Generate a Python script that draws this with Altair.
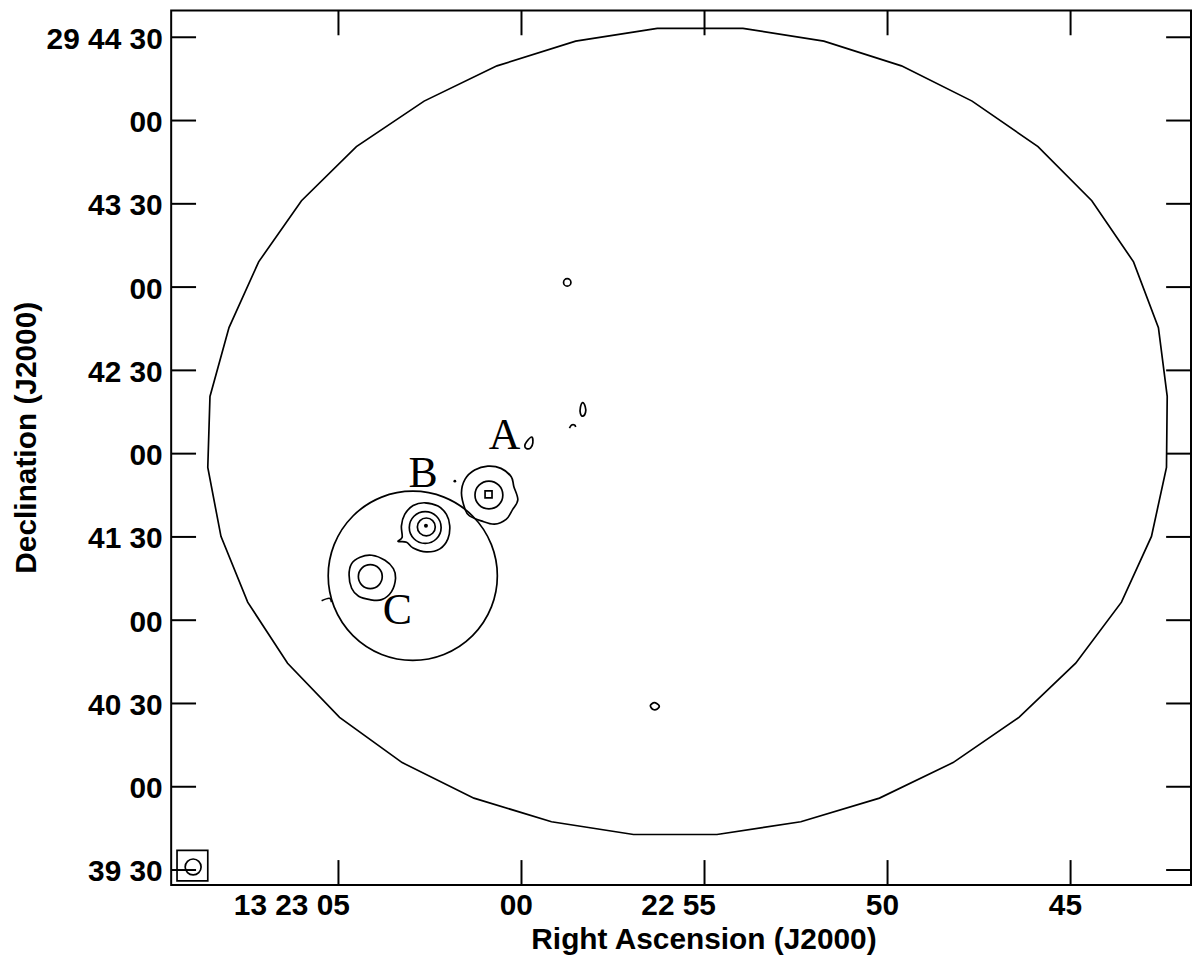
import json
import altair as alt
import pandas as pd

# Coordinates: RA in seconds past 13h22m00s, Dec in arcsec past +29d39m00s
ra_ticks = [65, 60, 55, 50, 45]
ra_tick_labels = ["13 23 05", "00", "22 55", "50", "45"]
dec_ticks = [30, 60, 90, 120, 150, 180, 210, 240, 270, 300, 330]
dec_tick_labels = ["39 30", "00", "40 30", "00", "41 30", "00", "42 30", "00", "43 30", "00", "29 44 30"]

# primary beam polygon
pb_ra = [42.36, 42.60, 43.28, 44.42, 45.89, 47.69, 49.62, 51.74, 53.95, 56.29, 58.52, 60.67,
         62.66, 64.51, 66.01, 67.18, 67.99, 68.51, 68.57, 68.21, 67.48, 66.39, 64.97, 63.26,
         61.30, 59.18, 56.94, 54.66, 52.37, 50.22, 48.21, 46.41, 44.86, 43.61, 42.79, 42.38]
pb_dec = [200.6, 225.4, 249.1, 271.1, 290.6, 307.0, 319.7, 328.6, 333.2, 333.2, 328.6, 319.7,
          307.0, 290.6, 271.1, 249.1, 225.4, 200.6, 175.0, 150.2, 126.5, 104.5, 85.0, 68.7,
          55.9, 47.4, 42.8, 42.8, 47.4, 55.9, 68.7, 85.0, 104.5, 126.5, 150.2, 175.0]

# outer contours of the sources
a_out_ra = [60.92, 60.56, 60.28, 60.21, 60.10, 60.24, 60.42, 60.74, 61.10, 61.42, 61.54, 61.64, 61.54, 61.28]
a_out_dec = [175.5, 174.7, 171.7, 168.2, 163.4, 159.9, 156.3, 154.6, 155.8, 157.6, 159.9, 165.8, 170.8, 174.1]
b_out_ra = [62.64, 62.28, 62.05, 61.96, 62.01, 62.23, 62.60, 62.96, 63.14, 63.37, 63.26, 63.28, 63.19, 62.96]
b_out_dec = [162.3, 161.1, 158.1, 154.0, 149.3, 145.7, 144.6, 146.0, 148.1, 148.4, 149.9, 154.0, 158.1, 161.3]
c_out_ra = [64.09, 63.73, 63.50, 63.44, 63.55, 63.82, 64.14, 64.45, 64.64, 64.71, 64.64, 64.41]
c_out_dec = [143.4, 141.6, 138.6, 135.1, 130.3, 127.4, 127.4, 128.6, 131.5, 136.3, 140.4, 142.7]

# small closed noise contours
t1_ra = [58.33, 58.26, 58.25, 58.32, 58.39, 58.39]
t1_dec = [198.4, 197.0, 194.9, 193.5, 194.5, 196.7]
t2_ra = [59.72, 59.69, 59.75, 59.86, 59.91, 59.86]
t2_dec = [186.0, 183.9, 182.1, 181.8, 182.8, 184.3]
t3_ra = [56.48, 56.37, 56.24, 56.29, 56.40]
t3_dec = [89.2, 90.3, 89.2, 88.0, 87.8]

# small open contour fragments
arc_ra = [58.69, 58.63, 58.55, 58.52]
arc_dec = [189.2, 190.3, 190.3, 189.6]
sp_ra = [65.46, 65.25, 65.19]
sp_dec = [127.0, 127.9, 126.5]

# round contours (centres)
a_mid = (60.89, 165.1)
a_in = (60.90, 165.3)
b_mid = (62.63, 153.4)
b_in = (62.60, 153.6)
b_peak = (62.61, 154.0)
c_mid = (64.13, 135.7)
blob = (58.75, 241.7)
dot = (61.82, 170.1)
region_centre = (62.97, 136.0)

# beam
beam_box_ra = [69.41, 68.57]
beam_box_dec = [37.1, 26.1]
beam_centre = (68.97, 31.1)

# source labels
letters = ["A", "B", "C"]
letter_ra = [60.46, 62.69, 63.39]
letter_dec = [181.8, 167.9, 118.7]

W, H = 1025, 879
FONT = "Liberation Sans"

X_SCALE = alt.Scale(domain=[69.57, 41.71], nice=False, zero=False)
Y_SCALE = alt.Scale(domain=[24.62, 339.68], nice=False, zero=False)

x_axis = alt.Axis(
    values=ra_ticks,
    labelExpr=f"{json.dumps(ra_tick_labels)}[indexof({json.dumps(ra_ticks)}, datum.value)]",
    labelAlign="right", labelOffset=11, labelBaseline="alphabetic", labelPadding=30,
    labelOverlap=False, labelFlush=False, tickSize=0,
    titleX=535, titleY=64, titleAlign="center", titleBaseline="alphabetic",
)
y_axis = alt.Axis(
    values=dec_ticks,
    labelExpr=f"{json.dumps(dec_tick_labels)}[indexof({json.dumps(dec_ticks)}, datum.value)]",
    labelAlign="right", labelBaseline="alphabetic", labelOffset=11, labelPadding=9,
    labelOverlap=False, labelFlush=False, tickSize=0,
    titleX=-136, titleY=429, titleAngle=270, titleAlign="center", titleBaseline="alphabetic",
)


def X(f="ra"):
    return alt.X(f"{f}:Q", scale=X_SCALE, axis=x_axis, title="Right Ascension (J2000)")


def Y(f="dec"):
    return alt.Y(f"{f}:Q", scale=Y_SCALE, axis=y_axis, title="Declination (J2000)")


def table(groups):
    rows = []
    for gid, (ras, decs) in enumerate(groups):
        for k, (r, d) in enumerate(zip(ras, decs)):
            rows.append({"ra": r, "dec": d, "cid": gid, "k": k})
    return pd.DataFrame(rows)


LW = 1.7

beam_poly = alt.Chart(table([(pb_ra, pb_dec)])).mark_line(
    interpolate="linear-closed", color="black", strokeWidth=LW
).encode(x=X(), y=Y(), detail="cid:N", order="k:Q")

closed = alt.Chart(table([(a_out_ra, a_out_dec), (b_out_ra, b_out_dec), (c_out_ra, c_out_dec),
                          (t1_ra, t1_dec), (t2_ra, t2_dec), (t3_ra, t3_dec)])).mark_line(
    interpolate="cardinal-closed", color="black", strokeWidth=LW
).encode(x=X(), y=Y(), detail="cid:N", order="k:Q")

open_frag = alt.Chart(table([(arc_ra, arc_dec), (sp_ra, sp_dec)])).mark_line(
    interpolate="cardinal", color="black", strokeWidth=LW
).encode(x=X(), y=Y(), detail="cid:N", order="k:Q")


def ring(c, size, shape="circle", filled=False):
    df = pd.DataFrame({"ra": [c[0]], "dec": [c[1]]})
    return alt.Chart(df).mark_point(
        shape=shape, size=size, filled=filled, color="black", opacity=1,
        strokeWidth=LW
    ).encode(x=X(), y=Y())


rings = [
    ring(a_mid, 784), ring(a_in, 49, shape="square"),
    ring(b_mid, 1024), ring(b_in, 324), ring(b_peak, 16, filled=True),
    ring(c_mid, 576), ring(blob, 55), ring(dot, 8, filled=True),
    ring(region_centre, 28900), ring(beam_centre, 256),
]

beam_box = alt.Chart(pd.DataFrame({"ra": [beam_box_ra[0]], "ra2": [beam_box_ra[1]],
                                   "dec": [beam_box_dec[0]], "dec2": [beam_box_dec[1]]})).mark_rect(
    fill=None, stroke="black", strokeWidth=LW
).encode(x=X(), x2="ra2:Q", y=Y(), y2="dec2:Q")

labels = alt.Chart(pd.DataFrame({"ra": letter_ra, "dec": letter_dec, "t": letters})).mark_text(
    font="Liberation Serif", fontSize=44, align="center", baseline="alphabetic", color="black"
).encode(x=X(), y=Y(), text="t:N")

ra_df = pd.DataFrame({"ra": ra_ticks})
dec_df = pd.DataFrame({"dec": dec_ticks})
TK = 25
tick_bottom = alt.Chart(ra_df).mark_rule(color="black", strokeWidth=2).encode(
    x=X(), y=alt.value(H), y2=alt.value(H - TK))
tick_top = alt.Chart(ra_df).mark_rule(color="black", strokeWidth=2).encode(
    x=X(), y=alt.value(0), y2=alt.value(TK))
tick_left = alt.Chart(dec_df).mark_rule(color="black", strokeWidth=2).encode(
    y=Y(), x=alt.value(0), x2=alt.value(TK))
tick_right = alt.Chart(dec_df).mark_rule(color="black", strokeWidth=2).encode(
    y=Y(), x=alt.value(W), x2=alt.value(W - TK))

chart = alt.layer(
    beam_poly, closed, open_frag, *rings, beam_box, labels,
    tick_bottom, tick_top, tick_left, tick_right
).properties(
    width=W, height=H,
    autosize=alt.AutoSizeParams(type="none"),
    padding={"left": 164, "top": 0, "right": 1, "bottom": 71},
).configure_view(
    stroke="black", strokeWidth=2
).configure_axis(
    domain=False, ticks=False, grid=False,
    labelFont=FONT, labelFontWeight="bold", labelFontSize=30, labelColor="black",
    titleFont=FONT, titleFontWeight="bold", titleFontSize=30, titleColor="black",
)

chart.save("out.html", embed_options={"renderer": "svg", "actions": False})
